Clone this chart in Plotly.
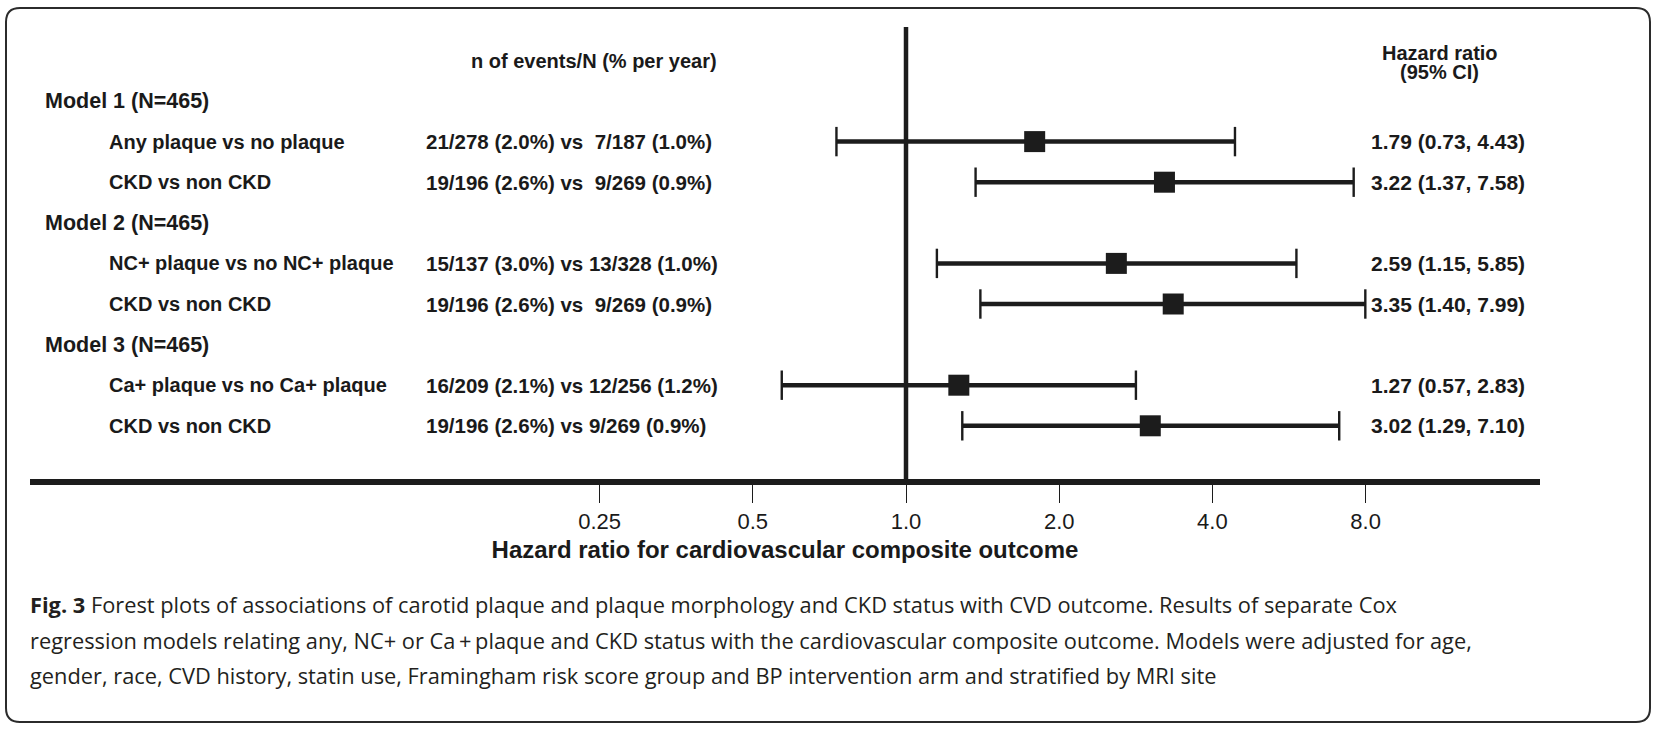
import math
import plotly.graph_objects as go

# ---------------- data ----------------
model_titles = ["Model 1 (N=465)", "Model 2 (N=465)", "Model 3 (N=465)"]
comparisons = [
    "Any plaque vs no plaque",
    "CKD vs non CKD",
    "NC+ plaque vs no NC+ plaque",
    "CKD vs non CKD",
    "Ca+ plaque vs no Ca+ plaque",
    "CKD vs non CKD",
]
events = [
    "21/278 (2.0%) vs  7/187 (1.0%)",
    "19/196 (2.6%) vs  9/269 (0.9%)",
    "15/137 (3.0%) vs 13/328 (1.0%)",
    "19/196 (2.6%) vs  9/269 (0.9%)",
    "16/209 (2.1%) vs 12/256 (1.2%)",
    "19/196 (2.6%) vs 9/269 (0.9%)",
]
hr = [1.79, 3.22, 2.59, 3.35, 1.27, 3.02]
ci_low = [0.73, 1.37, 1.15, 1.40, 0.57, 1.29]
ci_high = [4.43, 7.58, 5.85, 7.99, 2.83, 7.10]
tick_vals = [0.25, 0.5, 1.0, 2.0, 4.0, 8.0]
tick_text = ["0.25", "0.5", "1.0", "2.0", "4.0", "8.0"]
hr_labels = [f"{h:.2f} ({l:.2f}, {u:.2f})" for h, l, u in zip(hr, ci_low, ci_high)]

model_rows = [0, 3, 6]
comp_rows = [1, 2, 4, 5, 7, 8]

caption_lines = [
    "<b>Fig. 3</b> Forest plots of associations of carotid plaque and plaque morphology and CKD status with CVD outcome. Results of separate Cox",
    "regression models relating any, NC+ or Ca\u2009+\u2009plaque and CKD status with the cardiovascular composite outcome. Models were adjusted for age,",
    "gender, race, CVD history, statin use, Framingham risk score group and BP intervention arm and stratified by MRI site",
]

# ---------------- layout constants (pixels) ----------------
W, H = 1656, 733
X_LEFT, X_RIGHT = 30, 1540          # extent of the x axis line
X_ONE, PX_PER_DOUBLING = 906, 153.2  # position of HR = 1 and scale
Y_TOP, Y_AXIS = 27, 479              # vertical reference line extent
ROW0, ROW_STEP = 101, 40.6           # first row centre and spacing

def px(x):
    return x / W

def py(y):
    return 1 - y / H

def row_to_val(pix):
    return (pix - ROW0) / ROW_STEP

xr0 = math.log10(2 ** ((X_LEFT - X_ONE) / PX_PER_DOUBLING))
xr1 = math.log10(2 ** ((X_RIGHT - X_ONE) / PX_PER_DOUBLING))

INK = "#1c1c1c"
TXT = "#1a1a1a"
FONT = "Liberation Sans, Arial, sans-serif"

fig = go.Figure()

# CI lines
for r, l, u in zip(comp_rows, ci_low, ci_high):
    fig.add_trace(go.Scatter(x=[l, u], y=[r, r], mode="lines",
                             line=dict(color=INK, width=4.5),
                             hoverinfo="skip", showlegend=False))
# caps
fig.add_trace(go.Scatter(x=ci_low + ci_high, y=comp_rows + comp_rows, mode="markers",
                         marker=dict(symbol="line-ns", size=21,
                                     line=dict(color=INK, width=2.4)),
                         hoverinfo="skip", showlegend=False))
# point estimates
fig.add_trace(go.Scatter(x=hr, y=comp_rows, mode="markers",
                         marker=dict(symbol="square", size=21, color=INK,
                                     line=dict(width=0)),
                         showlegend=False))

# reference line at HR = 1
fig.add_shape(type="line", xref="x", yref="y domain", x0=1, x1=1, y0=0, y1=1,
              line=dict(color=INK, width=4.5), layer="below")

def bf(size):
    return dict(family=FONT, size=size, color=TXT)

ann = []
for r, t in zip(model_rows, model_titles):
    ann.append(dict(x=px(43), y=r, xref="paper", yref="y", text=f"<b>{t}</b>",
                    xanchor="left", yanchor="middle", showarrow=False, font=bf(21.5)))
for r, t, e, h in zip(comp_rows, comparisons, events, hr_labels):
    ann.append(dict(x=px(107), y=r, xref="paper", yref="y", text=f"<b>{t}</b>",
                    xanchor="left", yanchor="middle", showarrow=False, font=bf(20)))
    ann.append(dict(x=px(424), y=r, xref="paper", yref="y",
                    text="<b>" + e.replace("  ", "\u00a0\u00a0") + "</b>",
                    xanchor="left", yanchor="middle", showarrow=False, font=bf(20.5)))
    ann.append(dict(x=px(1369), y=r, xref="paper", yref="y", text=f"<b>{h}</b>",
                    xanchor="left", yanchor="middle", showarrow=False, font=bf(21)))
ann.append(dict(x=px(469), y=row_to_val(61), xref="paper", yref="y",
                text="<b>n of events/N (% per year)</b>",
                xanchor="left", yanchor="middle", showarrow=False, font=bf(20)))
ann.append(dict(x=px(1380), y=row_to_val(53), xref="paper", yref="y",
                text="<b>Hazard ratio</b>",
                xanchor="left", yanchor="middle", showarrow=False, font=bf(20)))
ann.append(dict(x=px(1398), y=row_to_val(72), xref="paper", yref="y",
                text="<b>(95% CI)</b>",
                xanchor="left", yanchor="middle", showarrow=False, font=bf(20)))

cap_font = dict(family="Open Sans, Noto Sans, sans-serif", size=21.8, color="#231f20")
for yy, line in zip([604, 640, 675], caption_lines):
    ann.append(dict(x=px(28), y=py(yy), xref="paper", yref="paper", text=line,
                    xanchor="left", yanchor="middle", showarrow=False, font=cap_font))

# rounded outer frame
L, R, T, B, rad = 6, 1650, 8, 722, 14
path = (f"M {px(L+rad)},{py(T)} L {px(R-rad)},{py(T)} Q {px(R)},{py(T)} {px(R)},{py(T+rad)} "
        f"L {px(R)},{py(B-rad)} Q {px(R)},{py(B)} {px(R-rad)},{py(B)} "
        f"L {px(L+rad)},{py(B)} Q {px(L)},{py(B)} {px(L)},{py(B-rad)} "
        f"L {px(L)},{py(T+rad)} Q {px(L)},{py(T)} {px(L+rad)},{py(T)} Z")
fig.add_shape(type="path", xref="paper", yref="paper", path=path,
              line=dict(color="#2b2b2b", width=2))

fig.update_layout(
    width=W, height=H,
    margin=dict(l=0, r=0, t=0, b=0),
    paper_bgcolor="white", plot_bgcolor="white",
    annotations=ann,
    xaxis=dict(type="log", range=[xr0, xr1], domain=[px(X_LEFT), px(X_RIGHT)],
               tickvals=tick_vals, ticktext=tick_text,
               showgrid=False, zeroline=False,
               showline=True, linewidth=6, linecolor=INK,
               ticks="outside", ticklen=18, tickwidth=1, tickcolor=INK,
               tickfont=dict(family=FONT, size=22, color=TXT),
               title=dict(text="<b>Hazard ratio for cardiovascular composite outcome</b>",
                          font=dict(family=FONT, size=24, color=TXT), standoff=10),
               fixedrange=True),
    yaxis=dict(range=[row_to_val(Y_AXIS), row_to_val(Y_TOP)],
               domain=[1 - Y_AXIS / H, 1 - Y_TOP / H],
               showgrid=False, zeroline=False, showline=False,
               showticklabels=False, ticks="", fixedrange=True),
)

fig.write_html(
    "out.html",
    config={"displayModeBar": False},
    post_script="document.body.style.margin='0';document.body.style.overflow='hidden';",
)
